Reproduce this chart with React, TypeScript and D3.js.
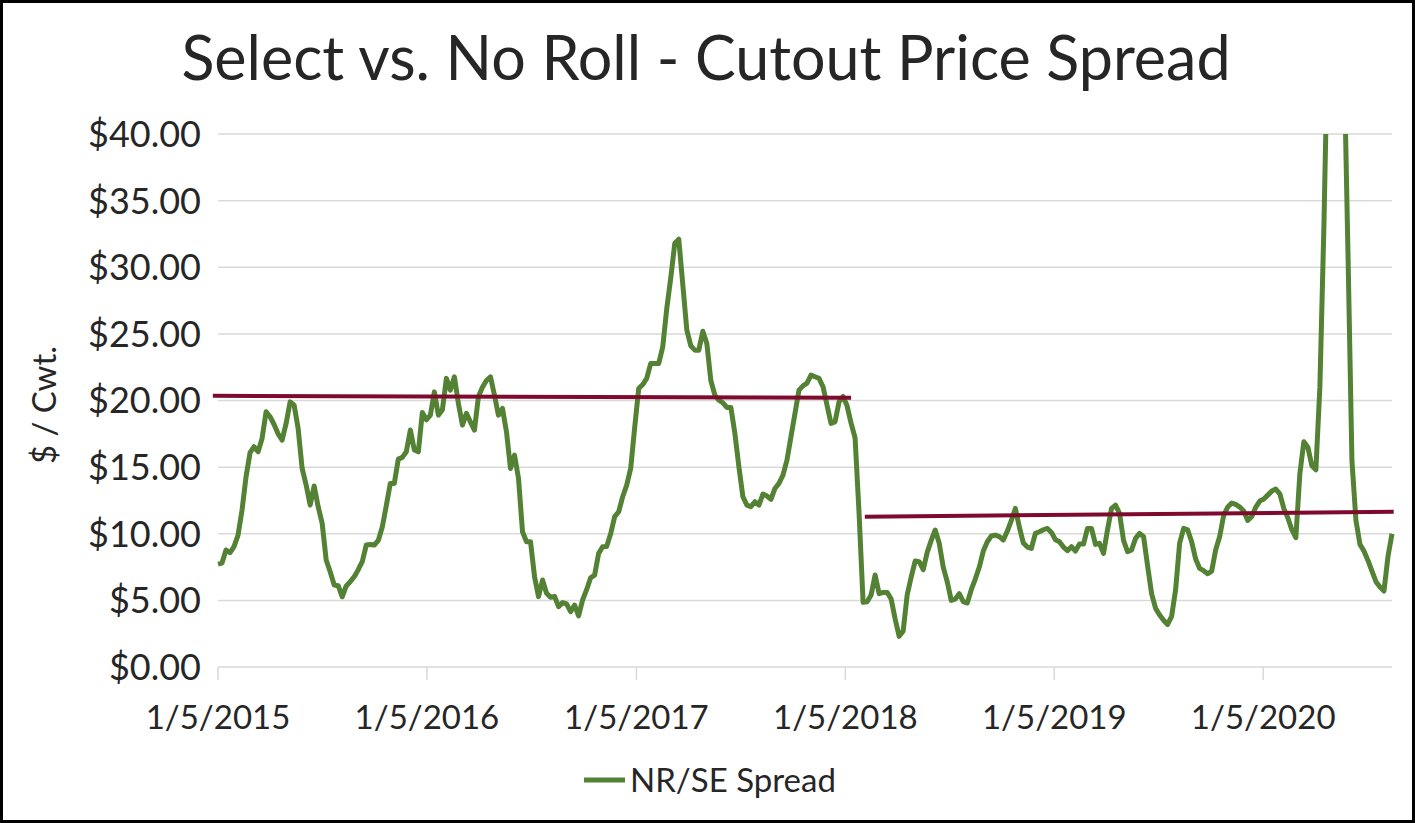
import React from "react";
import * as d3 from "d3";

// weekly NR/SE spread ($/cwt), first week 1/5/2015
const firstWeek = "2015-01-05";
const nrSeSpread = [
  7.73, 7.8, 8.78, 8.58, 9.03, 9.9, 11.78, 14.28, 16.08, 16.53,
  16.15, 17.15, 19.15, 18.78, 18.2, 17.5, 17.03, 18.28, 19.9, 19.65,
  17.9, 14.9, 13.65, 12.15, 13.58, 12.03, 10.78, 8.03, 7.15, 6.15,
  6.1, 5.27, 6.08, 6.4, 6.78, 7.3, 7.9, 9.15, 9.2, 9.15,
  9.5, 10.5, 12.1, 13.78, 13.78, 15.6, 15.73, 16.15, 17.78, 16.28,
  16.15, 19.1, 18.55, 18.9, 20.65, 18.9, 19.3, 21.66, 20.78, 21.78,
  19.78, 18.15, 19.03, 18.4, 17.78, 20.3, 21.0, 21.5, 21.78, 20.4,
  18.9, 19.4, 17.65, 14.9, 15.9, 14.15, 10.15, 9.4, 9.4, 6.78,
  5.28, 6.53, 5.53, 5.23, 5.3, 4.53, 4.83, 4.73, 4.15, 4.65,
  3.83, 5.03, 5.8, 6.7, 6.9, 8.53, 9.03, 9.05, 10.0, 11.28,
  11.65, 12.78, 13.65, 14.9, 18.0, 20.9, 21.2, 21.66, 22.78, 22.78,
  22.78, 24.03, 26.9, 29.2, 31.8, 32.1, 28.7, 25.3, 24.1, 23.78,
  23.78, 25.2, 24.28, 21.5, 20.4, 20.03, 19.83, 19.48, 19.48, 17.53,
  15.03, 12.78, 12.15, 12.03, 12.4, 12.15, 12.98, 12.83, 12.58, 13.4,
  13.78, 14.4, 15.53, 17.28, 19.03, 20.78, 21.1, 21.3, 21.9, 21.78,
  21.66, 21.03, 19.65, 18.28, 18.4, 19.9, 20.3, 19.6, 18.3, 17.2,
  11.5, 4.85, 4.9, 5.4, 6.9, 5.5, 5.6, 5.6, 5.1, 3.6,
  2.3, 2.7, 5.4, 6.75, 7.95, 7.9, 7.3, 8.6, 9.5, 10.28,
  9.28, 7.5, 6.4, 5.0, 5.1, 5.5, 4.9, 4.8, 5.8, 6.6,
  7.5, 8.7, 9.4, 9.83, 9.9, 9.78, 9.53, 10.2, 11.0, 11.9,
  10.5, 9.3, 9.0, 8.9, 10.03, 10.15, 10.3, 10.4, 10.1, 9.55,
  9.4, 9.0, 8.73, 9.03, 8.7, 9.23, 9.23, 10.4, 10.4, 9.2,
  9.28, 8.53, 10.3, 11.9, 12.15, 11.53, 9.5, 8.65, 8.78, 9.65,
  10.03, 9.78, 7.6, 5.5, 4.4, 3.9, 3.5, 3.2, 3.8, 5.8,
  9.3, 10.4, 10.3, 9.4, 8.1, 7.4, 7.23, 7.0, 7.2, 8.8,
  9.8, 11.4, 12.0, 12.3, 12.2, 12.0, 11.7, 11.0, 11.3, 12.0,
  12.45, 12.6, 12.9, 13.2, 13.35, 13.0, 11.9, 11.2, 10.3, 9.7,
  14.5, 16.9, 16.5, 15.1, 14.8, 21.0, 33.0, 48, 60, 64,
  55, 46, 31.3, 15.5, 11.0, 9.2, 8.7, 8.0, 7.2, 6.4,
  6.0, 5.7, 8.3, 10.0,
];

// average lines (two periods)
const avgStart = ["2014-12-27", "2018-02-08"];
const avgEnd = ["2018-01-15", "2020-08-20"];
const avgFrom = [20.35, 11.28];
const avgTo = [20.2, 11.65];

const yTicks = [0, 5, 10, 15, 20, 25, 30, 35, 40];
const xTicks = ["2015-01-05", "2016-01-05", "2017-01-05", "2018-01-05", "2019-01-05", "2020-01-05"];

const title = "Select vs. No Roll - Cutout Price Spread";
const yTitle = "$ / Cwt.";
const seriesName = "NR/SE Spread";

const green = "#548235";
const maroon = "#7E0A2E";
const ink = "#262626";
const grid = "#D9D9D9";
const font = "Lato, 'Open Sans', sans-serif";

const day = (s: string) => new Date(s + "T00:00:00Z");

export default function App() {
  const W = 1415;
  const H = 823;
  const left = 218, right = 1392, top = 134, bottom = 667;

  const start = day(firstWeek);
  const points = nrSeSpread.map((v, i) => ({ date: d3.utcDay.offset(start, i * 7), v }));

  const x = d3.scaleUtc()
    .domain([start, points[points.length - 1].date])
    .range([left, right]);
  const y = d3.scaleLinear().domain([0, 40]).range([bottom, top]);

  const line = d3.line<{ date: Date; v: number }>()
    .x((d) => x(d.date))
    .y((d) => y(d.v));

  const fmtY = d3.format("$.2f");
  const fmtX = d3.utcFormat("%-m/%-d/%Y");

  return (
    <svg width={W} height={H} style={{ position: "absolute", left: 0, top: 0, display: "block", background: "#fff" }}>
      <defs>
        <clipPath id="plot">
          <rect x={left - 5} y={top} width={right - left + 10} height={bottom - top + 10} />
        </clipPath>
      </defs>
      <rect x={1.5} y={1.5} width={W - 3} height={H - 3} fill="#fff" stroke="#000" strokeWidth={3} />

      <text x={706} y={80} textAnchor="middle" fontFamily={font} fontSize={61} fill={ink}>
        {title}
      </text>

      {/* grid + y labels */}
      {yTicks.map((t) => (
        <g key={t}>
          <line x1={left} x2={right} y1={y(t)} y2={y(t)} stroke={grid} strokeWidth={1.5} />
          <text x={201} y={y(t)} dy="0.36em" textAnchor="end" fontFamily={font} fontSize={36} fill={ink}>
            {fmtY(t)}
          </text>
        </g>
      ))}

      {/* x ticks */}
      {xTicks.map((s) => {
        const px = x(day(s));
        return (
          <g key={s}>
            <line x1={px} x2={px} y1={bottom} y2={bottom + 13} stroke={grid} strokeWidth={1.5} />
            <text x={px} y={729} textAnchor="middle" fontFamily={font} fontSize={33} fill={ink}>
              {fmtX(day(s))}
            </text>
          </g>
        );
      })}

      <text
        transform={`translate(56, 405) rotate(-90)`}
        textAnchor="middle"
        fontFamily={font}
        fontSize={33}
        fill={ink}
      >
        {yTitle}
      </text>

      <path d={line(points) || ""} fill="none" stroke={green} strokeWidth={5} strokeLinejoin="round" clipPath="url(#plot)" />

      {avgStart.map((s, i) => (
        <line
          key={s}
          x1={x(day(s))}
          x2={x(day(avgEnd[i]))}
          y1={y(avgFrom[i])}
          y2={y(avgTo[i])}
          stroke={maroon}
          strokeWidth={4}
        />
      ))}

      {/* legend */}
      <line x1={584} x2={625} y1={780} y2={780} stroke={green} strokeWidth={5} />
      <text x={630} y={792} fontFamily={font} fontSize={33} fill={ink}>
        {seriesName}
      </text>
    </svg>
  );
}
